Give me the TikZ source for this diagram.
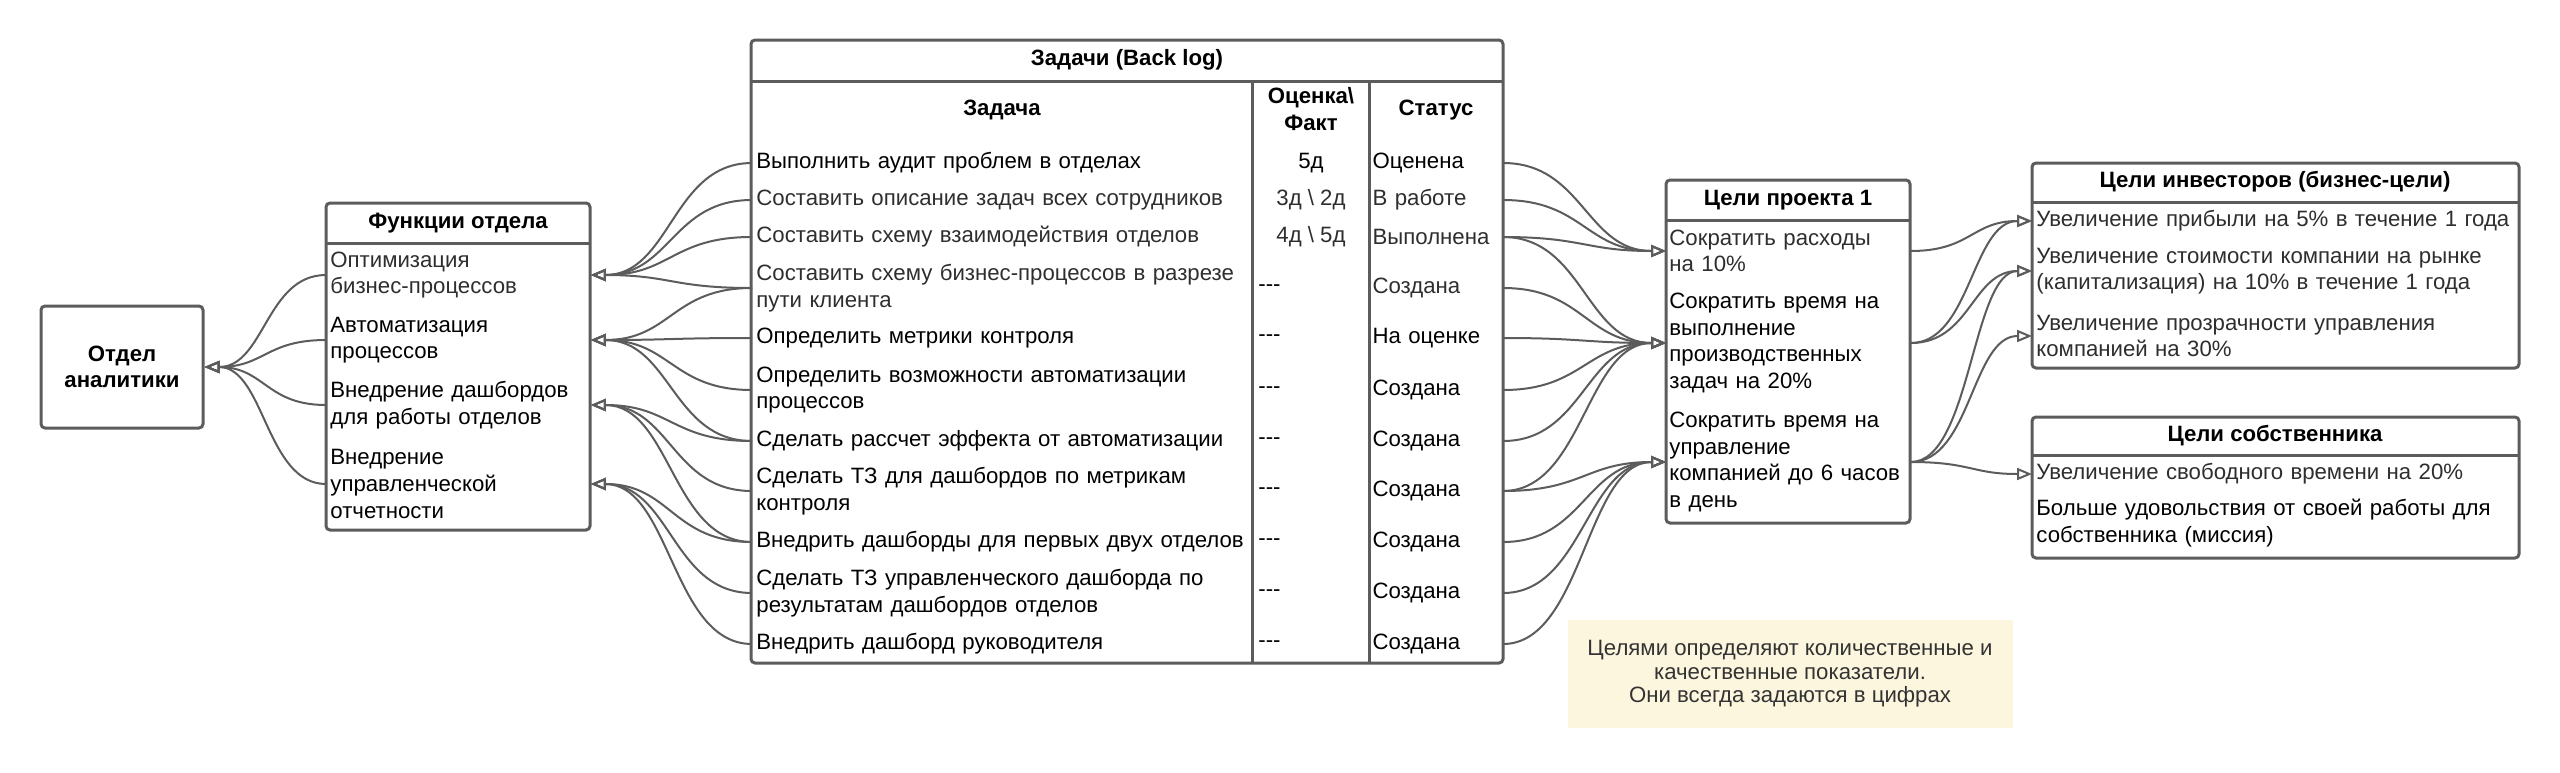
\documentclass[tikz,border=0pt]{standalone}
\usepackage{fontspec}
\setmainfont{Liberation Sans}
\usepackage{tikz}
\usetikzlibrary{arrows.meta}
\definecolor{edge}{HTML}{5C5C5C}
\definecolor{notefill}{HTML}{FDF6DF}
\begin{document}
\begin{tikzpicture}[x=0.5pt, y=-0.5pt,
    frame/.style={draw=edge, line width=1.5pt, rounded corners=2pt},
    link/.style={draw=edge, line width=1pt, -{Triangle[open, length=7.5pt, width=6pt]}},
    txt/.style={font=\fontsize{11.1}{13.3}\selectfont, inner xsep=2pt, inner ysep=1pt, align=left},
    head/.style={font=\fontsize{11.1}{13.3}\selectfont\bfseries, align=center},
    soft/.style={text=black!82},
    func/.style={txt, anchor=west, text width=128pt},
    task/.style={txt, anchor=west, text width=250pt},
    est/.style={txt, anchor=west},
    estc/.style={txt, anchor=center, align=center},
    stat/.style={txt, anchor=east, text width=63pt},
    goal/.style={txt, anchor=west, inner xsep=1.5pt, text width=119pt},
    aim/.style={txt, anchor=west, text width=239.5pt}]
    \useasboundingbox (0,0) rectangle (2560,772);

    \node[frame, head, minimum width=81pt, minimum height=61pt] (dept) at (122,367) {Отдел\\аналитики};

    \draw[frame] (326,203) rectangle (590,530);
    \draw[frame] (326,243) -- (590,243);
    \node[head] (funchead) at (458,223) {Функции отдела};
    \node[func, soft] (f1) at (326,275) {Оптимизация\\бизнес-процессов};
    \node[func] (f2) at (326,340) {Автоматизация\\процессов};
    \node[func] (f3) at (326,405) {Внедрение дашбордов\\для работы отделов};
    \node[func] (f4) at (326,484) {Внедрение\\управленческой\\отчетности};

    \draw[frame] (751,40) rectangle (1503,663);
    \draw[frame] (751,81) -- (1503,81);
    \draw[frame] (1252,81) -- (1252,663);
    \draw[frame] (1369,81) -- (1369,663);
    \node[head] (loghead) at (1127,60) {Задачи (Back log)};
    \node[head] (taskhead) at (1002,110) {Задача};
    \node[head] (esthead) at (1311,109) {Оценка\textbackslash\\Факт};
    \node[head] (stathead) at (1436,110) {Статус};

    \node[task] (r1) at (752,163) {Выполнить аудит проблем в отделах};
    \node[task, soft] (r2) at (752,200) {Составить описание задач всех сотрудников};
    \node[task, soft] (r3) at (752,237) {Составить схему взаимодействия отделов};
    \node[task, soft] (r4) at (752,288) {Составить схему бизнес-процессов в разрезе\\пути клиента};
    \node[task] (r5) at (752,338) {Определить метрики контроля};
    \node[task] (r6) at (752,390) {Определить возможности автоматизации\\процессов};
    \node[task] (r7) at (752,441) {Сделать рассчет эффекта от автоматизации};
    \node[task] (r8) at (752,491) {Сделать ТЗ для дашбордов по метрикам\\контроля};
    \node[task] (r9) at (752,542) {Внедрить дашборды для первых двух отделов};
    \node[task] (r10) at (752,593) {Сделать ТЗ управленческого дашборда по\\результатам дашбордов отделов};
    \node[task] (r11) at (752,644) {Внедрить дашборд руководителя};

    \node[estc] (e1) at (1311,163) {5д};
    \node[estc, soft] (e2) at (1311,200) {3д \textbackslash{} 2д};
    \node[estc, soft] (e3) at (1311,237) {4д \textbackslash{} 5д};
    \node[est] (e4) at (1254,288) {-{}-{}-};
    \node[est] (e5) at (1254,338) {-{}-{}-};
    \node[est] (e6) at (1254,390) {-{}-{}-};
    \node[est] (e7) at (1254,441) {-{}-{}-};
    \node[est] (e8) at (1254,491) {-{}-{}-};
    \node[est] (e9) at (1254,542) {-{}-{}-};
    \node[est] (e10) at (1254,593) {-{}-{}-};
    \node[est] (e11) at (1254,644) {-{}-{}-};

    \node[stat] (s1) at (1503,163) {Оценена};
    \node[stat, soft] (s2) at (1503,200) {В работе};
    \node[stat, soft] (s3) at (1503,237) {Выполнена};
    \node[stat, soft] (s4) at (1503,288) {Создана};
    \node[stat] (s5) at (1503,338) {На оценке};
    \node[stat] (s6) at (1503,390) {Создана};
    \node[stat] (s7) at (1503,441) {Создана};
    \node[stat] (s8) at (1503,491) {Создана};
    \node[stat] (s9) at (1503,542) {Создана};
    \node[stat] (s10) at (1503,593) {Создана};
    \node[stat] (s11) at (1503,644) {Создана};

    \draw[frame] (1666,180) rectangle (1910,523);
    \draw[frame] (1666,220) -- (1910,220);
    \node[head] (goalhead) at (1788,200) {Цели проекта 1};
    \node[goal, soft] (g1) at (1666,251) {Сократить расходы\\на 10\%};
    \node[goal] (g2) at (1666,343) {Сократить время на\\выполнение\\производственных\\задач на 20\%};
    \node[goal] (g3) at (1666,462) {Сократить время на\\управление\\компанией до 6 часов\\в день};

    \draw[frame] (2032,163) rectangle (2519,368);
    \draw[frame] (2032,202) -- (2519,202);
    \node[head] (invhead) at (2275,182) {Цели инвесторов (бизнес-цели)};
    \node[aim, soft] (i1) at (2032,221) {Увеличение прибыли на 5\% в течение 1 года};
    \node[aim, soft] (i2) at (2032,271) {Увеличение стоимости компании на рынке\\(капитализация) на 10\% в течение 1 года};
    \node[aim, soft] (i3) at (2032,336) {Увеличение прозрачности управления\\компанией на 30\%};

    \draw[frame] (2032,417) rectangle (2519,558);
    \draw[frame] (2032,455) -- (2519,455);
    \node[head] (ownhead) at (2275,436) {Цели собственника};
    \node[aim, soft] (o1) at (2032,474) {Увеличение свободного времени на 20\%};
    \node[aim] (o2) at (2032,523) {Больше удовольствия от своей работы для\\собственника (миссия)};

    \node[fill=notefill, text=black!80, minimum width=222.5pt, minimum height=54pt, align=center,
        font=\fontsize{11.1}{11.8}\selectfont] (note) at (1790,674)
        {Целями определяют количественные и\\качественные показатели.\\Они всегда задаются в цифрах};

    \draw[link] (f1.west) .. controls +(-60,0) and +(60,0) .. (dept.east);
    \draw[link] (f2.west) .. controls +(-60,0) and +(60,0) .. (dept.east);
    \draw[link] (f3.west) .. controls +(-60,0) and +(60,0) .. (dept.east);
    \draw[link] (f4.west) .. controls +(-60,0) and +(60,0) .. (dept.east);

    \draw[link] (r1.west) .. controls +(-80,0) and +(80,0) .. (f1.east);
    \draw[link] (r2.west) .. controls +(-80,0) and +(80,0) .. (f1.east);
    \draw[link] (r3.west) .. controls +(-80,0) and +(80,0) .. (f1.east);
    \draw[link] (r4.west) .. controls +(-80,0) and +(80,0) .. (f1.east);
    \draw[link] (r4.west) .. controls +(-80,0) and +(80,0) .. (f2.east);
    \draw[link] (r5.west) .. controls +(-80,0) and +(80,0) .. (f2.east);
    \draw[link] (r6.west) .. controls +(-80,0) and +(80,0) .. (f2.east);
    \draw[link] (r7.west) .. controls +(-80,0) and +(80,0) .. (f2.east);
    \draw[link] (r7.west) .. controls +(-80,0) and +(80,0) .. (f3.east);
    \draw[link] (r8.west) .. controls +(-80,0) and +(80,0) .. (f3.east);
    \draw[link] (r9.west) .. controls +(-80,0) and +(80,0) .. (f3.east);
    \draw[link] (r9.west) .. controls +(-80,0) and +(80,0) .. (f4.east);
    \draw[link] (r10.west) .. controls +(-80,0) and +(80,0) .. (f4.east);
    \draw[link] (r11.west) .. controls +(-80,0) and +(80,0) .. (f4.east);

    \draw[link] (s1.east) .. controls +(80,0) and +(-80,0) .. (g1.west);
    \draw[link] (s2.east) .. controls +(80,0) and +(-80,0) .. (g1.west);
    \draw[link] (s3.east) .. controls +(80,0) and +(-80,0) .. (g1.west);
    \draw[link] (s3.east) .. controls +(80,0) and +(-80,0) .. (g2.west);
    \draw[link] (s4.east) .. controls +(80,0) and +(-80,0) .. (g2.west);
    \draw[link] (s5.east) .. controls +(80,0) and +(-80,0) .. (g2.west);
    \draw[link] (s6.east) .. controls +(80,0) and +(-80,0) .. (g2.west);
    \draw[link] (s7.east) .. controls +(80,0) and +(-80,0) .. (g2.west);
    \draw[link] (s8.east) .. controls +(80,0) and +(-80,0) .. (g2.west);
    \draw[link] (s8.east) .. controls +(80,0) and +(-80,0) .. (g3.west);
    \draw[link] (s9.east) .. controls +(80,0) and +(-80,0) .. (g3.west);
    \draw[link] (s10.east) .. controls +(80,0) and +(-80,0) .. (g3.west);
    \draw[link] (s11.east) .. controls +(80,0) and +(-80,0) .. (g3.west);

    \draw[link] (g1.east) .. controls +(60,0) and +(-60,0) .. (i1.west);
    \draw[link] (g2.east) .. controls +(60,0) and +(-60,0) .. (i1.west);
    \draw[link] (g2.east) .. controls +(60,0) and +(-60,0) .. (i2.west);
    \draw[link] (g3.east) .. controls +(60,0) and +(-60,0) .. (i2.west);
    \draw[link] (g3.east) .. controls +(60,0) and +(-60,0) .. (i3.west);
    \draw[link] (g3.east) .. controls +(60,0) and +(-60,0) .. (o1.west);
\end{tikzpicture}
\end{document}
